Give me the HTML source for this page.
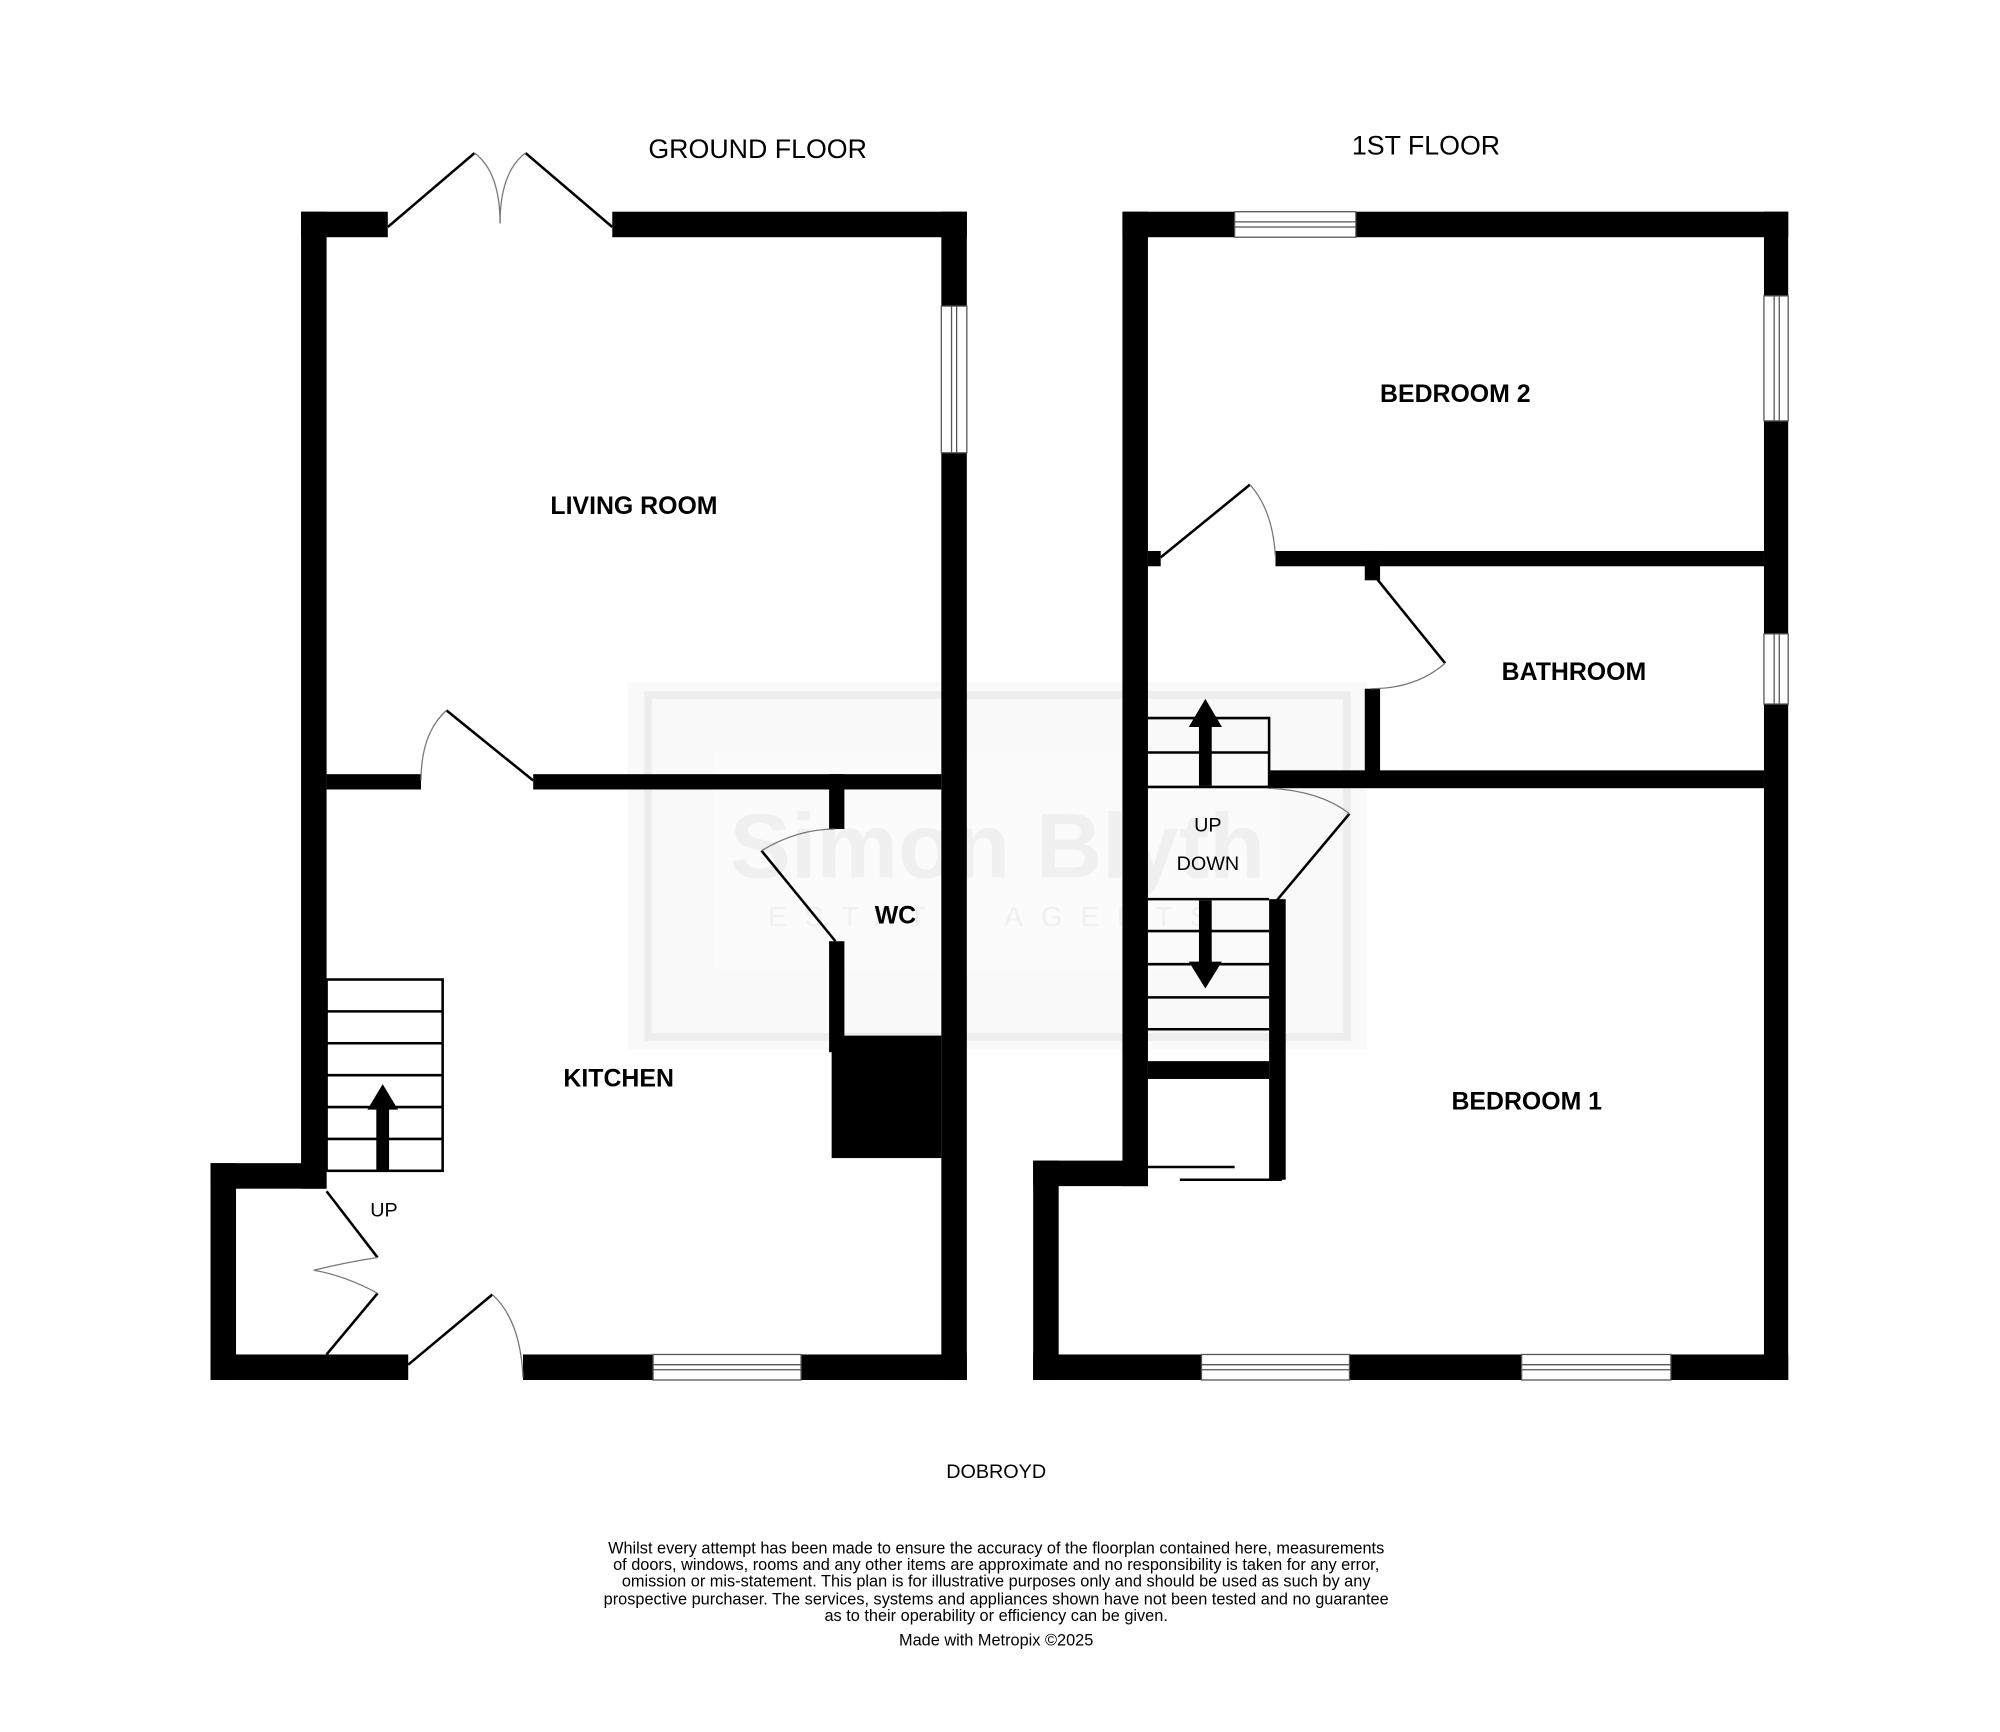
<!DOCTYPE html>
<html><head><meta charset="utf-8"><style>
html,body{margin:0;padding:0;background:#fff;}
svg{display:block;}
text{font-family:"Liberation Sans",Arial,sans-serif;}
</style></head><body>
<svg width="2000" height="1732" viewBox="0 0 1568 1358" xmlns="http://www.w3.org/2000/svg">
<rect width="1568" height="1358" fill="#fff"/>
<!-- watermark -->
<g opacity="0.5">
<rect x="492" y="535" width="580" height="288" fill="#f4f4f4"/>
<rect x="508" y="545" width="548" height="268" fill="none" stroke="#ddd" stroke-width="6"/>
<rect x="560" y="590" width="444" height="170" fill="#f8f8f8"/>
<text x="782" y="688" font-size="72" font-family="Liberation Serif" fill="#e2e2e2" text-anchor="middle" font-weight="bold">Simon Blyth</text>
<text x="782" y="726" font-size="22" fill="#e2e2e2" text-anchor="middle" letter-spacing="14">ESTATE AGENTS</text>
</g>
<g fill="#000">
<rect x="236" y="166" width="68" height="20"/>
<rect x="480" y="166" width="278" height="20"/>
<rect x="236" y="166" width="20" height="766"/>
<rect x="165" y="912" width="91" height="20"/>
<rect x="165" y="912" width="20" height="170"/>
<rect x="165" y="1062" width="155" height="20"/>
<rect x="410" y="1062" width="102" height="20"/>
<rect x="628" y="1062" width="130" height="20"/>
<rect x="738" y="166" width="20" height="74"/>
<rect x="738" y="355" width="20" height="727"/>
<rect x="256" y="607" width="74" height="12"/>
<rect x="418" y="607" width="320" height="12"/>
<rect x="650" y="607" width="12" height="43"/>
<rect x="650" y="738" width="12" height="87"/>
<rect x="652" y="812" width="86" height="96"/>
<rect x="880" y="166" width="88" height="20"/>
<rect x="1063" y="166" width="339" height="20"/>
<rect x="880" y="166" width="20" height="764"/>
<rect x="810" y="910" width="90" height="20"/>
<rect x="810" y="910" width="20" height="172"/>
<rect x="810" y="1062" width="132" height="20"/>
<rect x="1058" y="1062" width="135" height="20"/>
<rect x="1310" y="1062" width="92" height="20"/>
<rect x="1383" y="166" width="19" height="66"/>
<rect x="1383" y="330" width="19" height="167"/>
<rect x="1383" y="552" width="19" height="530"/>
<rect x="900" y="432" width="10" height="12"/>
<rect x="1000" y="432" width="383" height="12"/>
<rect x="1070" y="432" width="12" height="23"/>
<rect x="1070" y="540" width="12" height="67"/>
<rect x="995" y="604" width="388" height="14"/>
<rect x="995" y="705" width="13" height="220"/>
<rect x="900" y="832" width="95" height="14"/>
</g>
<g fill="#fff" stroke="#555" stroke-width="1">
<rect x="512" y="1062" width="116" height="20"/>
<line x1="512" y1="1070" x2="628" y2="1070"/><line x1="512" y1="1074" x2="628" y2="1074"/>
<rect x="738" y="240" width="20" height="115"/>
<line x1="746" y1="240" x2="746" y2="355"/><line x1="750" y1="240" x2="750" y2="355"/>
<rect x="968" y="166" width="95" height="20"/>
<line x1="968" y1="174" x2="1063" y2="174"/><line x1="968" y1="178" x2="1063" y2="178"/>
<rect x="942" y="1062" width="116" height="20"/>
<line x1="942" y1="1070" x2="1058" y2="1070"/><line x1="942" y1="1074" x2="1058" y2="1074"/>
<rect x="1193" y="1062" width="117" height="20"/>
<line x1="1193" y1="1070" x2="1310" y2="1070"/><line x1="1193" y1="1074" x2="1310" y2="1074"/>
<rect x="1383" y="232" width="19" height="98"/>
<line x1="1391" y1="232" x2="1391" y2="330"/><line x1="1395" y1="232" x2="1395" y2="330"/>
<rect x="1383" y="497" width="19" height="55"/>
<line x1="1391" y1="497" x2="1391" y2="552"/><line x1="1395" y1="497" x2="1395" y2="552"/>
</g>
<g fill="none" stroke="#000" stroke-width="2">
<line x1="304" y1="178" x2="372" y2="120"/><line x1="480" y1="178" x2="412" y2="120"/>
<line x1="418" y1="612" x2="350" y2="557"/>
<line x1="320" y1="1070" x2="386" y2="1015"/>
<line x1="256" y1="934" x2="296" y2="986"/><line x1="256" y1="1062" x2="296" y2="1014"/>
<line x1="655" y1="738" x2="597" y2="667"/>
<line x1="910" y1="437" x2="980" y2="380"/>
<line x1="1078" y1="452" x2="1133" y2="520"/>
<line x1="1001" y1="706" x2="1058" y2="638"/>
<line x1="900" y1="915" x2="968" y2="915"/><line x1="925" y1="925" x2="1005" y2="925"/>
</g>
<g fill="none" stroke="#777" stroke-width="1">
<path d="M372 120 Q392 135 392 175"/><path d="M412 120 Q392 135 392 175"/>
<path d="M350 557 Q330 575 330 612"/>
<path d="M386 1015 Q408 1035 410 1080"/>
<path d="M296 986 Q270 990 246 996"/><path d="M296 1014 Q270 1000 246 996"/>
<path d="M597 667 Q625 650 655 650"/>
<path d="M980 380 Q998 400 1000 437"/>
<path d="M1133 520 Q1110 540 1075 540"/>
<path d="M1058 638 Q1035 620 995 618"/>
</g>
<g fill="none" stroke="#000" stroke-width="2">
<rect x="256" y="768" width="91" height="150"/>
<line x1="256" y1="793" x2="347" y2="793"/><line x1="256" y1="818" x2="347" y2="818"/>
<line x1="256" y1="843" x2="347" y2="843"/><line x1="256" y1="868" x2="347" y2="868"/>
<line x1="256" y1="893" x2="347" y2="893"/>
<polyline points="900,563 995,563 995,618"/>
<line x1="900" y1="590" x2="995" y2="590"/><line x1="900" y1="617" x2="995" y2="617"/>
<line x1="900" y1="705" x2="995" y2="705"/><line x1="900" y1="730" x2="995" y2="730"/>
<line x1="900" y1="756" x2="995" y2="756"/><line x1="900" y1="782" x2="995" y2="782"/>
<line x1="900" y1="807" x2="995" y2="807"/>
</g>
<g fill="#000">
<rect x="295" y="868" width="10" height="50"/><polygon points="288,870 312,870 300,850"/>
<rect x="940" y="568" width="10" height="48"/><polygon points="932,570 958,570 945,548"/>
<rect x="940" y="706" width="10" height="50"/><polygon points="932,754 958,754 945,775"/>
</g>
<g font-size="21" fill="#000">
<text x="594" y="124" text-anchor="middle">GROUND FLOOR</text>
<text x="1118" y="121" text-anchor="middle">1ST FLOOR</text>
</g>
<g font-size="19.5" font-weight="bold" fill="#000" text-anchor="middle">
<text x="497" y="403">LIVING ROOM</text>
<text x="485" y="852">KITCHEN</text>
<text x="702" y="724">WC</text>
<text x="1141" y="315">BEDROOM 2</text>
<text x="1234" y="533">BATHROOM</text>
<text x="1197" y="870">BEDROOM 1</text>
</g>
<g font-size="15.5" fill="#000" text-anchor="middle">
<text x="301" y="954">UP</text>
<text x="947" y="652">UP</text>
<text x="947" y="682">DOWN</text>
<text x="781" y="1159">DOBROYD</text>
</g>
<g font-size="12.8" fill="#000" text-anchor="middle">
<text x="781" y="1218">Whilst every attempt has been made to ensure the accuracy of the floorplan contained here, measurements</text>
<text x="781" y="1231">of doors, windows, rooms and any other items are approximate and no responsibility is taken for any error,</text>
<text x="781" y="1244">omission or mis-statement. This plan is for illustrative purposes only and should be used as such by any</text>
<text x="781" y="1258">prospective purchaser. The services, systems and appliances shown have not been tested and no guarantee</text>
<text x="781" y="1271">as to their operability or efficiency can be given.</text>
<text x="781" y="1290">Made with Metropix ©2025</text>
</g>
</svg>
</body></html>
